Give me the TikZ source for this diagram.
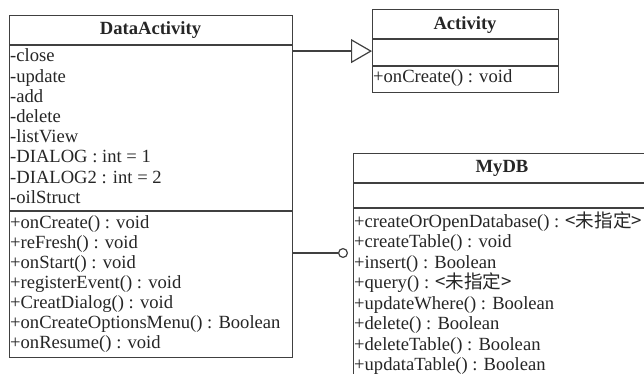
\documentclass[tikz,border=0pt]{standalone}
\usepackage{fontspec}
\setmainfont{Liberation Serif}
\newfontfamily\cjk{Noto Sans CJK SC}
\usetikzlibrary{arrows.meta}

\begin{document}
\begin{tikzpicture}[x=1pt,y=-1pt,
  font=\fontsize{18.6}{20}\selectfont,
  umlline/.style={draw=black!75,line width=1.2pt},
  classbox/.style={umlline,fill=white,inner sep=0pt,anchor=north west},
  classname/.style={anchor=base,inner sep=0pt,text=black!85,
    font=\fontsize{18.6}{20}\selectfont\bfseries},
  member/.style={anchor=base west,inner sep=0pt,text=black!85}]

  % Page of the reference; the MyDB box runs past its right and lower edge
  \clip (0,0) rectangle (644,374);
  \fill[white] (0,0) rectangle (644,374);

  % Class boxes
  \node[classbox,minimum width=283,minimum height=342] (dataact) at (9,15) {};
  \node[classbox,minimum width=186,minimum height=83]  (activity) at (372,9) {};
  \node[classbox,minimum width=300,minimum height=260] (mydb) at (353,153) {};

  % Compartment lines
  \draw[umlline] (dataact.west |- 0,45)   -- (dataact.east |- 0,45);
  \draw[umlline] (dataact.west |- 0,211)  -- (dataact.east |- 0,211);
  \draw[umlline] (activity.west |- 0,39)  -- (activity.east |- 0,39);
  \draw[umlline] (activity.west |- 0,66)  -- (activity.east |- 0,66);
  \draw[umlline] (mydb.west |- 0,183)     -- (mydb.east |- 0,183);
  \draw[umlline] (mydb.west |- 0,208)     -- (mydb.east |- 0,208);

  % Class names
  \node[classname] (dataact-name)  at (150.5,35)  {DataActivity};
  \node[classname] (activity-name) at (465,29.3)  {Activity};
  \node[classname] (mydb-name)     at (502,172.3) {MyDB};

  % DataActivity attributes and operations
  \foreach \m [count=\i] in {-close,-update,-add,-delete,-listView,
      -DIALOG : int = 1,-DIALOG2 : int = 2,-oilStruct}
    \node[member] (da-attr-\i) at (10,{62+(\i-1)*20.2}) {\m};
  \foreach \m [count=\i] in {+onCreate() : void,+reFresh() : void,
      +onStart() : void,+registerEvent() : void,+CreatDialog() : void,
      +onCreateOptionsMenu() : Boolean,+onResume() : void}
    \node[member] (da-op-\i) at (10,{228.3+(\i-1)*20}) {\m};

  % Activity operation
  \node[member] (act-op-1) at (373,83) {+onCreate() : void};

  % MyDB operations
  \foreach \m [count=\i] in {+createOrOpenDatabase() : {\cjk <未指定>},
      +createTable() : void,+insert() : Boolean,+query() : {\cjk <未指定>},
      +updateWhere() : Boolean,+delete() : Boolean,+deleteTable() : Boolean,
      +updataTable() : Boolean}
    \node[member] (db-op-\i) at (354,{227.3+(\i-1)*20.5}) {\m};

  % Generalization DataActivity -> Activity
  \draw[umlline,-{Triangle[open,length=21pt,width=24pt,fill=white]}]
    (dataact.east |- activity.west) -- (activity.west);

  % Association with ball end towards MyDB
  \coordinate (ballend) at ([xshift=-5pt]mydb.west |- 0,253);
  \draw[umlline,-{Circle[open,length=10pt,width=10pt,fill=white]}]
    (dataact.east |- ballend) -- (ballend);

\end{tikzpicture}
\end{document}
